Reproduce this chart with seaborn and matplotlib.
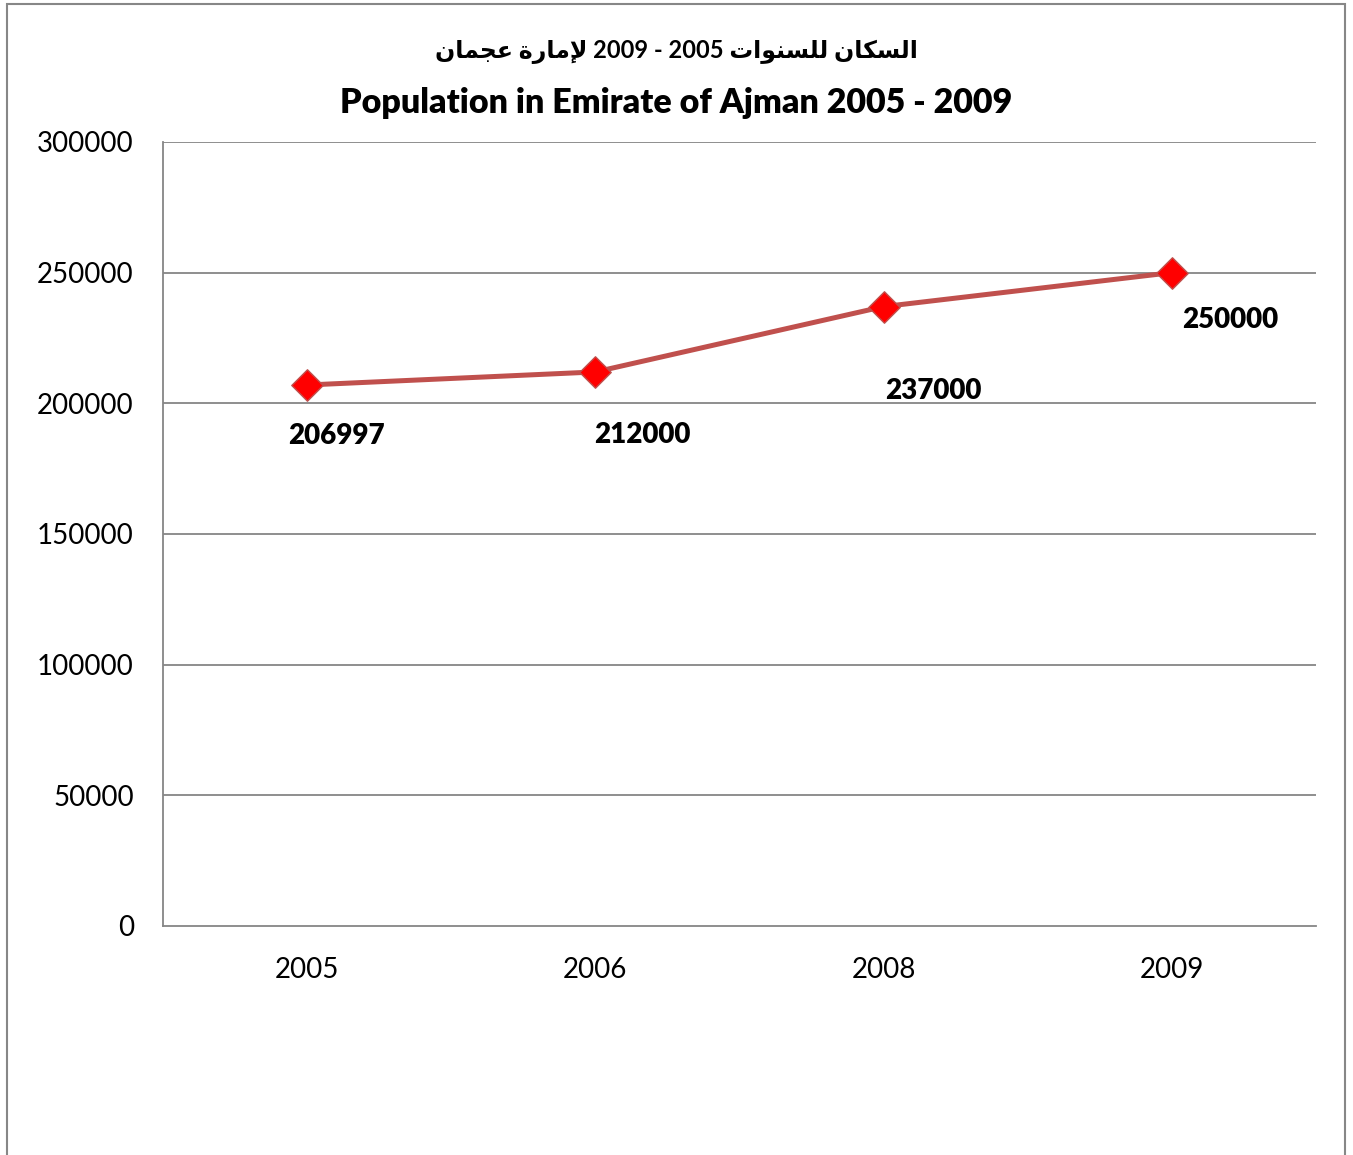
import numpy as np
import pandas as pd
import matplotlib
matplotlib.use('Agg')
import matplotlib.pyplot as plt
import seaborn as sns
from matplotlib.patches import Rectangle

# data
years = ['2005', '2006', '2008', '2009']
population = [206997, 212000, 237000, 250000]
y_ticks = [0, 50000, 100000, 150000, 200000, 250000, 300000]

title_en = 'Population in Emirate of Ajman 2005 - 2009'
# Arabic title "السكان للسنوات 2005 - 2009 لإمارة عجمان" written in shaped,
# visual (left-to-right) order since matplotlib has no bidi/shaping
title_ar = ('\uFEE5\uFE8E\uFEE4\uFEA0\uFECB '
            '\uFE93\uFEAD\uFE8E\uFEE3\uFEF9 '
            '2009 - 2005 '
            '\uFE95\uFE8D\uFEEE\uFEE8\uFEB4\uFEE0\uFEDF '
            '\uFEE5\uFE8E\uFEDC\uFEB4\uFEDF\uFE8D')

# label offsets (pixels) for the data labels, as Excel placed them
label_offsets = [(29, -51), (47, -63), (50, -84), (58, -47)]

df = pd.DataFrame({'year': years, 'population': population})

sns.set_style('white')
plt.rcParams['font.family'] = ['Lato', 'DejaVu Sans']
plt.rcParams['text.color'] = 'black'

fig = plt.figure(figsize=(13.53, 11.55), dpi=100)
ax = fig.add_axes([0.1205, 0.1983, 0.8522, 0.6788])

grid_col = '#868686'
for v in y_ticks[1:]:
  ax.axhline(v, color=grid_col, lw=1.3, zorder=0)

sns.lineplot(data=df, x='year', y='population', ax=ax, color='#C0504D',
             lw=3.6, zorder=2)
sns.scatterplot(data=df, x='year', y='population', ax=ax, marker='D',
                s=16 ** 2, color='#FF0000', edgecolor='#C0504D', linewidth=1,
                zorder=3)

for i, (yr, p) in enumerate(zip(years, population)):
  ax.annotate(str(p), (i, p), xytext=label_offsets[i], textcoords='offset pixels',
              ha='center', va='center', fontsize=20, fontweight='heavy',
              color='black')

ax.set_xlim(-0.5, len(years) - 0.5)
ax.set_ylim(0, 300000)
ax.set_yticks(y_ticks)
ax.set_yticklabels([str(v) for v in y_ticks])
ax.set_xlabel('')
ax.set_ylabel('')
ax.tick_params(axis='both', length=0, labelsize=20, colors='black')
ax.tick_params(axis='y', pad=21)
ax.tick_params(axis='x', pad=22)
for s in ['top', 'right']:
  ax.spines[s].set_visible(False)
for s in ['left', 'bottom']:
  ax.spines[s].set_color(grid_col)
  ax.spines[s].set_linewidth(1.3)

fig.text(0.5, 1 - 52 / 1155, title_ar, ha='center', va='center',
         fontsize=17, fontweight='bold', family=['Lato', 'DejaVu Sans'])
fig.text(0.5, 1 - 103 / 1155, title_en, ha='center', va='center',
         fontsize=24.5, fontweight='heavy')

# chart area border (cut off at the bottom in the original)
fig.patches.append(Rectangle((7 / 1353, -0.05), 1338 / 1353, 1.05 - 4 / 1155,
                             transform=fig.transFigure, fill=False,
                             edgecolor='#878787', lw=1.5))

fig.savefig('out.png', dpi=100)
